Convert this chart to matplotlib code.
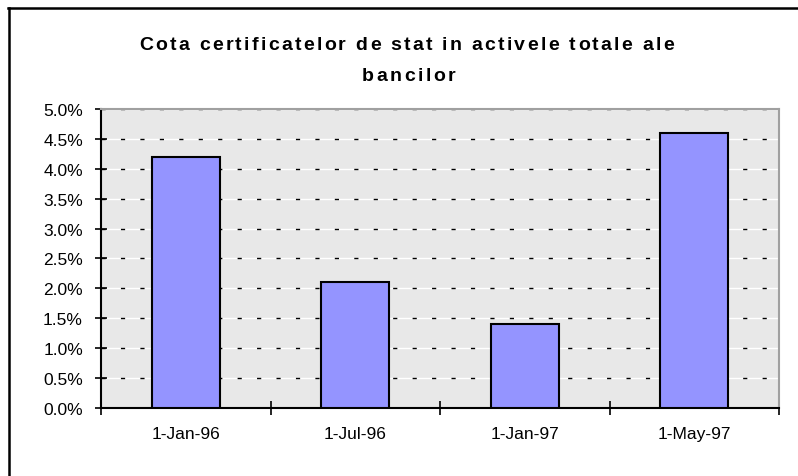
# Bar chart: share of state certificates in total bank assets
import matplotlib.pyplot as plt
from matplotlib.lines import Line2D
from matplotlib.ticker import FuncFormatter, MultipleLocator, FixedLocator
from matplotlib.font_manager import FontProperties, findfont
from matplotlib.ft2font import FT2Font
from matplotlib.transforms import offset_copy

plt.rcParams['font.family'] = ['Liberation Sans', 'DejaVu Sans']

dates = ['1-Jan-96', '1-Jul-96', '1-Jan-97', '1-May-97']
share_pct = [4.2, 2.1, 1.4, 4.6]
title_lines = ['Cota certificatelor de stat in activele totale ale', 'bancilor']

fig = plt.figure(figsize=(7.98, 4.77), dpi=100)
ax = fig.add_axes([0.1266, 0.1426, 0.8496, 0.6268])
ax.set_facecolor('#E8E8E8')


def spaced_text(x, y, s, size, weight='normal', spacing=0.0):
    # Excel stretches its chart titles, so lay the letters out one by one
    fp = FontProperties(family='Liberation Sans', size=size, weight=weight)
    font = FT2Font(findfont(fp))
    font.set_size(size, 72)
    widths = [font.load_char(ord(c)).linearHoriAdvance / 65536 for c in s]
    total = sum(widths) + spacing * (len(s) - 1)
    pos = -total / 2
    for c, w in zip(s, widths):
        tr = offset_copy(fig.transFigure, fig=fig, x=pos, y=0, units='points')
        fig.text(x, y, c, transform=tr, fontproperties=fp,
                 ha='left', va='baseline')
        pos += w + spacing


xs = list(range(len(dates)))

# gridlines: white under, black short dashes on top
for v in [0.5 * i for i in range(1, 11)]:
    ax.axhline(v, color='white', lw=1.0, zorder=1)
    ax.axhline(v, color='black', lw=1.0, dashes=(3, 11), zorder=1.5)

ax.bar(xs, share_pct, width=0.4, color='#9494FF', edgecolor='black',
       linewidth=1.5, zorder=3)

ax.set_xlim(-0.5, len(dates) - 0.5)
ax.set_ylim(0, 5.0)
ax.yaxis.set_major_locator(MultipleLocator(0.5))
ax.yaxis.set_major_formatter(FuncFormatter(lambda v, p: f'{v:.1f}%'))

# category boundaries get the ticks, labels sit at centres
ax.xaxis.set_major_locator(FixedLocator([i - 0.5 for i in range(len(dates) + 1)]))
ax.xaxis.set_minor_locator(FixedLocator(xs))
ax.set_xticklabels([], minor=False)
ax.set_xticklabels(dates, minor=True)

ax.tick_params(axis='y', direction='inout', length=8, width=1.2,
               labelsize=12.5, pad=9)
ax.tick_params(axis='x', which='major', direction='inout', length=10,
               width=1.2)
ax.tick_params(axis='x', which='minor', length=0, labelsize=12.5, pad=13)

for s in ['left', 'bottom']:
    ax.spines[s].set_color('black')
    ax.spines[s].set_linewidth(1.5)
for s in ['top', 'right']:
    ax.spines[s].set_color('#A0A0A0')
    ax.spines[s].set_linewidth(1.5)

spaced_text(406.5 / 798, 1 - 49.5 / 477, title_lines[0], 14, 'bold', 1.65)
spaced_text(408.5 / 798, 1 - 81 / 477, title_lines[1], 14, 'bold', 1.9)

# chart border (left and top edges visible)
fig.add_artist(Line2D([8.5 / 798, 8.5 / 798], [0, 1 - 9 / 477],
                      transform=fig.transFigure, color='black', lw=1.8))
fig.add_artist(Line2D([8 / 798, 1], [1 - 9 / 477, 1 - 9 / 477],
                      transform=fig.transFigure, color='black', lw=1.8))

fig.savefig('out.png', dpi=100)
